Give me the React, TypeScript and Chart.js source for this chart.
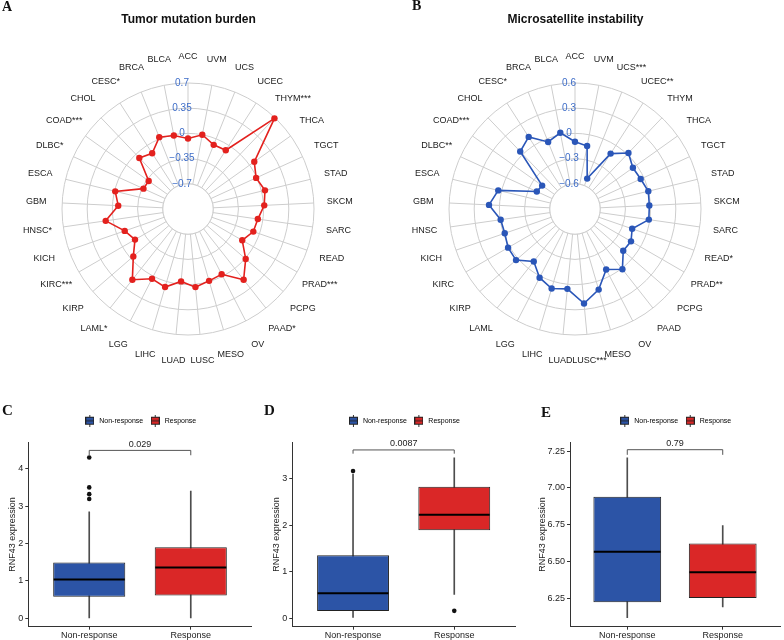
import React, { useEffect, useRef } from 'react';
import { Chart, registerables } from 'chart.js';

Chart.register(...registerables);

const FONT = "'Liberation Sans', Arial, Helvetica, sans-serif";
Chart.defaults.font.family = FONT;

// ---------- Radar data (A, B) ----------
const tmbLabels = ['ACC', 'UVM', 'UCS', 'UCEC', 'THYM***', 'THCA', 'TGCT', 'STAD', 'SKCM', 'SARC', 'READ', 'PRAD***', 'PCPG', 'PAAD*', 'OV', 'MESO', 'LUSC', 'LUAD', 'LIHC', 'LGG', 'LAML*', 'KIRP', 'KIRC***', 'KICH', 'HNSC*', 'GBM', 'ESCA', 'DLBC*', 'COAD***', 'CHOL', 'CESC*', 'BRCA', 'BLCA'];
const tmbValues = [-0.07, 0.0, -0.09, -0.08, 0.69, 0.08, -0.01, 0.05, 0.01, -0.07, -0.09, -0.18, 0.01, 0.2, -0.03, -0.01, 0.04, -0.04, 0.08, 0.04, 0.2, -0.045, -0.2, -0.12, 0.105, -0.08, -0.01, -0.37, -0.38, -0.07, -0.13, 0.025, -0.01];
const tmbTickValues = [-0.7, -0.35, 0, 0.35, 0.7];
const tmbTickLabels = ['\u22120.7', '\u22120.35', '0', '0.35', '0.7'];

const msiLabels = ['ACC', 'UVM', 'UCS***', 'UCEC**', 'THYM', 'THCA', 'TGCT', 'STAD', 'SKCM', 'SARC', 'READ*', 'PRAD**', 'PCPG', 'PAAD', 'OV', 'MESO', 'LUSC***', 'LUAD', 'LIHC', 'LGG', 'LAML', 'KIRP', 'KIRC', 'KICH', 'HNSC', 'GBM', 'ESCA', 'DLBC**', 'COAD***', 'CHOL', 'CESC*', 'BRCA', 'BLCA'];
const msiValues = [-0.1, -0.137, -0.51, -0.116, 0.022, -0.054, -0.04, -0.002, -0.014, -0.012, -0.18, -0.13, -0.14, 0.013, -0.09, 0.1, 0.23, 0.055, 0.087, 0.02, -0.106, 0.029, 0.02, -0.015, -0.006, 0.125, 0.04, -0.4, -0.42, 0.045, 0.12, -0.04, 0.024];
const msiTickValues = [-0.6, -0.3, 0, 0.3, 0.6];
const msiTickLabels = ['\u22120.6', '\u22120.3', '0', '0.3', '0.6'];

// ---------- Box plot data (C, D, E) ----------
const groups = ['Non-response', 'Response'];
const boxColors = ['#2C54A6', '#DA2727'];

const cLow = [0.0, 0.0];
const cQ1 = [0.58, 0.61];
const cMed = [1.04, 1.36];
const cQ3 = [1.49, 1.9];
const cHigh = [2.85, 3.4];
const cOutNR = [4.3, 3.5, 3.32, 3.19];
const cOutR: number[] = [];
const cYTicks = [0, 1, 2, 3, 4];
const cYTickLabels = ['0', '1', '2', '3', '4'];
const cBracket = [4.36, 4.49];
const cP = '0.029';

const dLow = [0.02, 0.51];
const dQ1 = [0.157, 1.89];
const dMed = [0.535, 2.22];
const dQ3 = [1.35, 2.82];
const dHigh = [3.09, 3.44];
const dOutNR = [3.16];
const dOutR = [0.16];
const dYTicks = [0, 1, 2, 3];
const dYTickLabels = ['0', '1', '2', '3'];
const dBracket = [3.53, 3.61];
const dP = '0.0087';

const eLow = [6.116, 6.19];
const eQ1 = [6.221, 6.25];
const eMed = [6.565, 6.425];
const eQ3 = [6.939, 6.622];
const eHigh = [7.205, 6.743];
const eOutNR: number[] = [];
const eOutR: number[] = [];
const eYTicks = [6.25, 6.5, 6.75, 7.0, 7.25];
const eYTickLabels = ['6.25', '6.50', '6.75', '7.00', '7.25'];
const eBracket = [7.225, 7.26];
const eP = '0.79';

function makeKey(fill: string): HTMLCanvasElement {
  const c = document.createElement('canvas');
  c.width = 9;
  c.height = 12;
  const g = c.getContext('2d') as CanvasRenderingContext2D;
  g.strokeStyle = '#333333';
  g.lineWidth = 1;
  g.beginPath();
  g.moveTo(4.5, 0);
  g.lineTo(4.5, 2);
  g.moveTo(4.5, 10);
  g.lineTo(4.5, 12);
  g.stroke();
  g.fillStyle = fill;
  g.fillRect(0.5, 2.5, 8, 7);
  g.strokeStyle = '#222222';
  g.strokeRect(0.5, 2.5, 8, 7);
  g.beginPath();
  g.moveTo(0.5, 6);
  g.lineTo(8.5, 6);
  g.stroke();
  return c;
}

function radarConfig(p: any): any {
  const gridColor = '#cdcdcd';
  const decor = {
    id: 'radarDecor',
    beforeDatasetsDraw(chart: any) {
      const s = chart.scales.r;
      const ctx = chart.ctx;
      const r = s.getDistanceFromCenterForValue(p.tickValues[0]);
      ctx.save();
      ctx.fillStyle = '#ffffff';
      ctx.beginPath();
      ctx.arc(s.xCenter, s.yCenter, r, 0, Math.PI * 2);
      ctx.fill();
      ctx.strokeStyle = gridColor;
      ctx.lineWidth = 1;
      ctx.beginPath();
      ctx.arc(s.xCenter, s.yCenter, r, 0, Math.PI * 2);
      ctx.stroke();
      ctx.restore();
    },
    afterDatasetsDraw(chart: any) {
      const s = chart.scales.r;
      const ctx = chart.ctx;
      ctx.save();
      ctx.textAlign = 'center';
      ctx.textBaseline = 'middle';
      ctx.font = `10px ${FONT}`;
      ctx.fillStyle = '#3E6DC8';
      p.tickValues.forEach((v: number, i: number) => {
        ctx.fillText(p.tickLabels[i], s.xCenter - 6, s.yCenter - s.getDistanceFromCenterForValue(v));
      });
      ctx.font = `9px ${FONT}`;
      ctx.fillStyle = '#1a1a1a';
      chart.data.labels.forEach((lab: string, i: number) => {
        const pt = s.getPointPosition(i, s.drawingArea + 26);
        ctx.fillText(lab, pt.x, pt.y);
      });
      ctx.restore();
    },
  };
  return {
    type: 'radar',
    data: {
      labels: p.labels,
      datasets: [
        {
          data: p.values,
          borderColor: p.color,
          backgroundColor: p.color,
          pointBackgroundColor: p.color,
          pointBorderColor: p.color,
          pointRadius: 3.2,
          pointBorderWidth: 0,
          borderWidth: 1.6,
          fill: false,
          tension: 0,
        },
      ],
    },
    options: {
      animation: false,
      responsive: false,
      devicePixelRatio: 1,
      layout: { padding: { left: p.padL, right: p.padR, top: 0, bottom: 64 } },
      plugins: {
        legend: { display: false },
        tooltip: { enabled: false },
        title: {
          display: true,
          text: p.title,
          color: '#111111',
          font: { family: FONT, size: 12, weight: 'bold', lineHeight: 1.2 },
          padding: { top: 12, bottom: 56.65 },
        },
      },
      scales: {
        r: {
          min: p.min,
          max: p.tickValues[p.tickValues.length - 1],
          afterBuildTicks: (s: any) => {
            s.ticks = [p.min, ...p.tickValues].map((v: number) => ({ value: v }));
          },
          ticks: { display: false },
          grid: { circular: true, color: gridColor, lineWidth: 1 },
          angleLines: { display: true, color: gridColor, lineWidth: 1 },
          pointLabels: { display: false },
        },
      },
    },
    plugins: [decor],
  };
}

function boxConfig(p: any): any {
  const axisColor = '#333333';
  const keys = boxColors.map((c) => makeKey(c));
  const decor = {
    id: 'boxDecor',
    afterDatasetsDraw(chart: any) {
      const xs = chart.scales.x;
      const ys = chart.scales.y;
      const ctx = chart.ctx;
      const meta = chart.getDatasetMeta(1);
      ctx.save();
      ctx.strokeStyle = '#000000';
      ctx.lineWidth = 2;
      p.med.forEach((m: number, i: number) => {
        const el = meta.data[i];
        const xc = xs.getPixelForValue(i + 1);
        const hw = el.width / 2;
        const yy = ys.getPixelForValue(m);
        ctx.beginPath();
        ctx.moveTo(xc - hw + 0.5, yy);
        ctx.lineTo(xc + hw - 0.5, yy);
        ctx.stroke();
      });
      const x1 = xs.getPixelForValue(1);
      const x2 = xs.getPixelForValue(2);
      const yb = ys.getPixelForValue(p.bracket[1]);
      const yt = ys.getPixelForValue(p.bracket[0]);
      ctx.strokeStyle = '#555555';
      ctx.lineWidth = 1;
      ctx.beginPath();
      ctx.moveTo(x1, yt);
      ctx.lineTo(x1, yb);
      ctx.lineTo(x2, yb);
      ctx.lineTo(x2, yt);
      ctx.stroke();
      ctx.fillStyle = '#222222';
      ctx.font = `9px ${FONT}`;
      ctx.textAlign = 'center';
      ctx.textBaseline = 'bottom';
      ctx.fillText(p.pValue, (x1 + x2) / 2, yb - 1.5);
      ctx.restore();
    },
  };
  const legendGap = {
    id: 'legendGap',
    beforeLayout(chart: any) {
      const lg = chart.legend;
      if (lg && !lg.__gap) {
        const fit = lg.fit.bind(lg);
        lg.fit = () => {
          fit();
          lg.height += 8;
        };
        lg.__gap = true;
      }
    },
  };
  const outliers = [
    ...p.outNR.map((y: number) => ({ x: 1, y })),
    ...p.outR.map((y: number) => ({ x: 2, y })),
  ];
  return {
    type: 'bar',
    data: {
      datasets: [
        {
          type: 'bar',
          order: 3,
          data: groups.map((_, i) => ({ x: i + 1, y: [p.low[i], p.high[i]] })),
          backgroundColor: '#4d4d4d',
          barThickness: 1,
          grouped: false,
        },
        {
          type: 'bar',
          order: 2,
          data: groups.map((_, i) => ({ x: i + 1, y: [p.q1[i], p.q3[i]] })),
          backgroundColor: boxColors,
          borderColor: '#222222',
          borderWidth: 1,
          borderSkipped: false,
          barPercentage: 0.71,
          categoryPercentage: 1,
          grouped: false,
        },
        {
          type: 'scatter',
          order: 1,
          data: outliers,
          backgroundColor: '#111111',
          borderColor: '#111111',
          pointRadius: 2.3,
          pointBorderWidth: 0,
        },
      ],
    },
    options: {
      animation: false,
      responsive: false,
      devicePixelRatio: 1,
      layout: { padding: { left: 0, right: p.padR, top: 11.2, bottom: 0 } },
      plugins: {
        tooltip: { enabled: false },
        title: { display: false },
        legend: {
          display: true,
          position: 'top',
          fullSize: false,
          align: 'center',
          labels: {
            usePointStyle: true,
            pointStyleWidth: 12,
            boxWidth: 9,
            boxHeight: 8,
            padding: 6,
            color: '#222222',
            font: { size: 7, family: FONT },
            generateLabels: () =>
              groups.map((g, i) => ({
                text: g,
                fillStyle: boxColors[i],
                strokeStyle: '#222222',
                lineWidth: 1,
                pointStyle: keys[i],
                hidden: false,
                datasetIndex: 1,
                index: i,
              })),
          },
        },
      },
      scales: {
        x: {
          type: 'linear',
          offset: false,
          min: 0.4,
          max: 2.6,
          afterBuildTicks: (s: any) => {
            s.ticks = groups.map((_, i) => ({ value: i + 1 }));
          },
          afterFit: (s: any) => {
            s.height = 13.3;
          },
          ticks: {
            callback: (v: number) => groups[v - 1] ?? '',
            font: { size: 9, family: FONT },
            color: '#222222',
            padding: 0,
            maxRotation: 0,
            autoSkip: false,
          },
          grid: { display: true, offset: false, drawOnChartArea: false, drawTicks: true, tickLength: 3, color: axisColor },
          border: { display: true, color: axisColor, width: 1 },
        },
        y: {
          type: 'linear',
          min: p.yMin,
          max: p.yMax,
          afterBuildTicks: (s: any) => {
            s.ticks = p.yTicks.map((v: number) => ({ value: v }));
          },
          afterFit: (s: any) => {
            s.width = p.axisW;
          },
          ticks: {
            callback: (v: number) => {
              const k = p.yTicks.indexOf(v);
              return k >= 0 ? p.yTickLabels[k] : '';
            },
            font: { size: 9, family: FONT },
            color: '#222222',
            padding: 2,
          },
          title: {
            display: true,
            text: 'RNF43 expression',
            color: '#222222',
            font: { size: 9, family: FONT },
            padding: { top: p.titlePad, bottom: 0 },
          },
          grid: { display: true, drawOnChartArea: false, drawTicks: true, tickLength: 3, color: axisColor },
          border: { display: true, color: axisColor, width: 1 },
        },
      },
    },
    plugins: [decor, legendGap],
  };
}

const letterTop: React.CSSProperties = {
  position: 'absolute',
  fontFamily: "'Liberation Serif', 'Times New Roman', serif",
  fontWeight: 'bold',
  color: '#111',
  margin: 0,
};

export default function App() {
  const aRef = useRef<HTMLCanvasElement>(null);
  const bRef = useRef<HTMLCanvasElement>(null);
  const cRef = useRef<HTMLCanvasElement>(null);
  const dRef = useRef<HTMLCanvasElement>(null);
  const eRef = useRef<HTMLCanvasElement>(null);

  useEffect(() => {
    const charts: Chart[] = [];
    charts.push(
      new Chart(aRef.current as HTMLCanvasElement, radarConfig({
        title: 'Tumor mutation burden', labels: tmbLabels, values: tmbValues,
        tickValues: tmbTickValues, tickLabels: tmbTickLabels, min: -1.05, color: '#E3211E', padL: 62, padR: 77,
      }))
    );
    charts.push(
      new Chart(bRef.current as HTMLCanvasElement, radarConfig({
        title: 'Microsatellite instability', labels: msiLabels, values: msiValues,
        tickValues: msiTickValues, tickLabels: msiTickLabels, min: -0.9, color: '#2A56B8', padL: 57, padR: 82,
      }))
    );
    charts.push(
      new Chart(cRef.current as HTMLCanvasElement, boxConfig({
        low: cLow, q1: cQ1, med: cMed, q3: cQ3, high: cHigh, outNR: cOutNR, outR: cOutR,
        yMin: -0.224, yMax: 4.709, yTicks: cYTicks, yTickLabels: cYTickLabels, bracket: cBracket, pValue: cP,
        axisW: 28.3, titlePad: 7.6, padR: 10.3,
      }))
    );
    charts.push(
      new Chart(dRef.current as HTMLCanvasElement, boxConfig({
        low: dLow, q1: dQ1, med: dMed, q3: dQ3, high: dHigh, outNR: dOutNR, outR: dOutR,
        yMin: -0.18, yMax: 3.776, yTicks: dYTicks, yTickLabels: dYTickLabels, bracket: dBracket, pValue: dP,
        axisW: 30.3, titlePad: 9.3, padR: 9,
      }))
    );
    charts.push(
      new Chart(eRef.current as HTMLCanvasElement, boxConfig({
        low: eLow, q1: eQ1, med: eMed, q3: eQ3, high: eHigh, outNR: eOutNR, outR: eOutR,
        yMin: 6.055, yMax: 7.311, yTicks: eYTicks, yTickLabels: eYTickLabels, bracket: eBracket, pValue: eP,
        axisW: 46, titlePad: 13.3, padR: 4,
      }))
    );
    return () => charts.forEach((c) => c.destroy());
  }, []);

  const cv = (left: number, top: number, w: number, h: number): React.CSSProperties => ({
    position: 'absolute', left, top, width: w, height: h, display: 'block',
  });

  return (
    <div style={{ position: 'absolute', left: 0, top: 0, width: 784, height: 640, background: '#ffffff', overflow: 'hidden' }}>
      <canvas ref={aRef} width={392} height={400} style={cv(0, 0, 392, 400)} />
      <canvas ref={bRef} width={392} height={400} style={cv(392, 0, 392, 400)} />
      <canvas ref={cRef} width={262} height={240} style={cv(0, 400, 262, 240)} />
      <canvas ref={dRef} width={262} height={240} style={cv(262, 400, 262, 240)} />
      <canvas ref={eRef} width={260} height={240} style={cv(524, 400, 260, 240)} />
      <div style={{ ...letterTop, left: 2, top: -0.5, fontSize: 14, lineHeight: '14px' }}>A</div>
      <div style={{ ...letterTop, left: 412, top: -1.5, fontSize: 14, lineHeight: '14px' }}>B</div>
      <div style={{ ...letterTop, left: 2, top: 402.5, fontSize: 15, lineHeight: '15px' }}>C</div>
      <div style={{ ...letterTop, left: 264, top: 402.5, fontSize: 15, lineHeight: '15px' }}>D</div>
      <div style={{ ...letterTop, left: 541, top: 404.5, fontSize: 15, lineHeight: '15px' }}>E</div>
    </div>
  );
}
